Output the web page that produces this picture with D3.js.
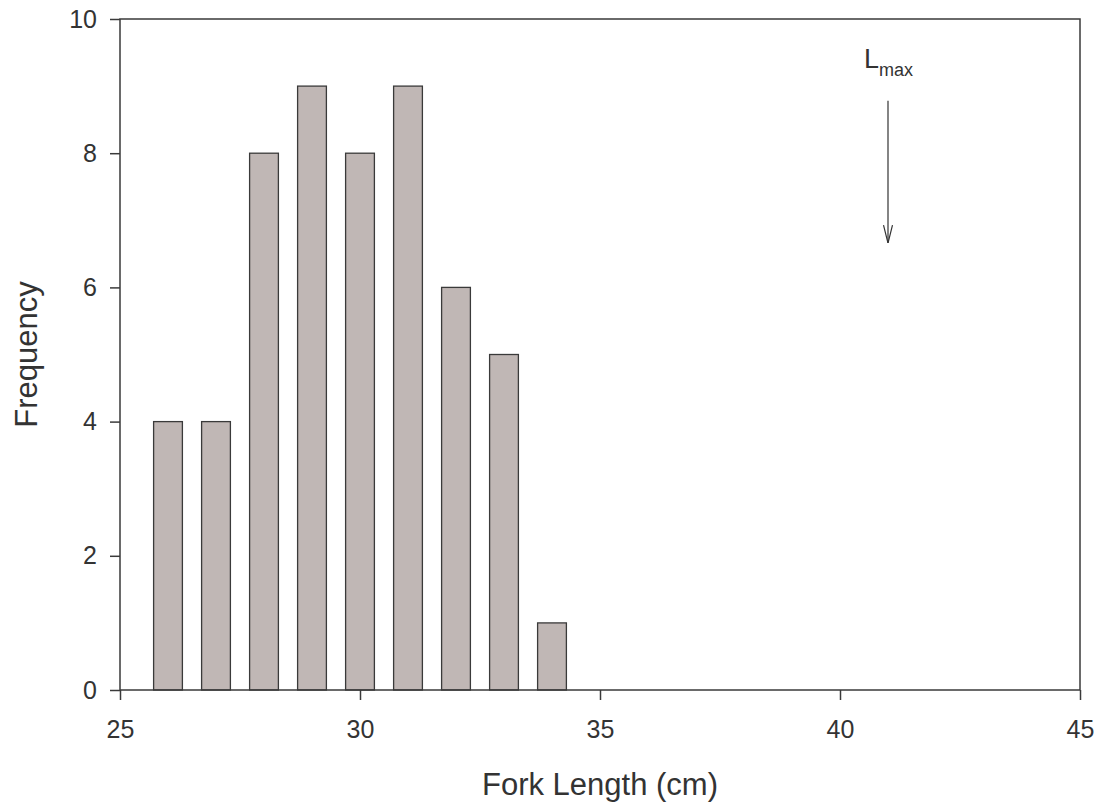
<!DOCTYPE html>
<html>
<head>
<meta charset="utf-8">
<script src="https://cdn.jsdelivr.net/npm/d3@7"></script>
<style>
  body { margin: 0; background: #fff; }
  text { font-family: "Liberation Sans", Arial, sans-serif; fill: #333; }
</style>
</head>
<body>
<script>
// fork length classes (cm) and counts
var lengths = [26, 27, 28, 29, 30, 31, 32, 33, 34];
var counts = [4, 4, 8, 9, 8, 9, 6, 5, 1];
var xTicks = [25, 30, 35, 40, 45];
var yTicks = [0, 2, 4, 6, 8, 10];
var lmaxX = 41;
var lmaxArrow = [8.78, 6.66];

var W = 1102, H = 811;
var margin = { top: 19, right: 22, bottom: 121, left: 120 };
var width = W - margin.left - margin.right, height = H - margin.top - margin.bottom;

var x = d3.scaleLinear().domain([25, 45]).range([0, width]);
var y = d3.scaleLinear().domain([0, 10]).range([height, 0]);
var barW = 0.6;

var svg = d3.select("body").append("svg")
    .attr("width", W).attr("height", H)
    .append("g")
    .attr("transform", "translate(" + margin.left + "," + margin.top + ")");

// open V arrowhead, tip along +x so orient=auto works
svg.append("defs").append("marker")
    .attr("id", "arr")
    .attr("viewBox", "0 0 18 10")
    .attr("refX", 18).attr("refY", 5)
    .attr("markerWidth", 18).attr("markerHeight", 10)
    .attr("markerUnits", "userSpaceOnUse")
    .attr("orient", "auto")
    .append("path")
    .attr("d", "M0,0.5 L18,5 L0,9.5")
    .attr("fill", "none").attr("stroke", "#333").attr("stroke-width", 1.2);

svg.selectAll("rect.bar")
    .data(lengths)
    .enter().append("rect")
    .attr("class", "bar")
    .attr("x", function (d) { return x(d - barW / 2); })
    .attr("width", x(25 + barW) - x(25))
    .attr("y", function (d, i) { return y(counts[i]); })
    .attr("height", function (d, i) { return height - y(counts[i]); })
    .attr("fill", "#c0b7b5")
    .attr("stroke", "#3a3a3a")
    .attr("stroke-width", 1.3);

// frame
svg.append("rect")
    .attr("width", width).attr("height", height)
    .attr("fill", "none").attr("stroke", "#3a3a3a").attr("stroke-width", 1.5);

var xAxis = svg.append("g")
    .attr("transform", "translate(0," + height + ")")
    .call(d3.axisBottom(x).tickValues(xTicks).tickSize(10).tickPadding(20));
var yAxis = svg.append("g")
    .call(d3.axisLeft(y).tickValues(yTicks).tickSize(10).tickPadding(13));
[xAxis, yAxis].forEach(function (a) {
    a.select(".domain").remove();
    a.selectAll("line").attr("stroke", "#3a3a3a").attr("stroke-width", 1.5);
    a.selectAll("text").style("font-size", "25px").attr("fill", "#333");
});

svg.append("text")
    .attr("x", width / 2).attr("y", height + 105)
    .attr("text-anchor", "middle")
    .style("font-size", "31px")
    .text("Fork Length (cm)");

svg.append("text")
    .attr("transform", "translate(-83," + height / 2 + ") rotate(-90)")
    .attr("text-anchor", "middle")
    .style("font-size", "31px")
    .text("Frequency");

// L_max marker
var lab = svg.append("text")
    .attr("x", x(lmaxX) - 24).attr("y", 49)
    .style("font-size", "27px");
lab.append("tspan").text("L");
lab.append("tspan").attr("dy", 8).style("font-size", "18px").text("max");

svg.append("line")
    .attr("x1", x(lmaxX)).attr("x2", x(lmaxX))
    .attr("y1", y(lmaxArrow[0])).attr("y2", y(lmaxArrow[1]))
    .attr("stroke", "#333").attr("stroke-width", 1.2)
    .attr("marker-end", "url(#arr)");
</script>
</body>
</html>
